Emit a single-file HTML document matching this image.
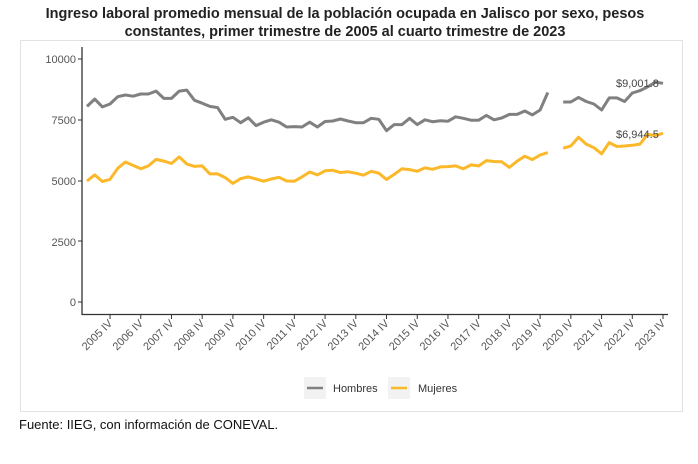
<!DOCTYPE html>
<html><head><meta charset="utf-8"><style>
body{margin:0;background:#fff;width:698px;height:459px;overflow:hidden;font-family:"Liberation Sans",sans-serif}
</style></head><body>
<svg width="698" height="459" xmlns="http://www.w3.org/2000/svg" font-family="Liberation Sans, sans-serif">
<text x="345" y="18" text-anchor="middle" font-size="14.5" font-weight="bold" fill="#222">Ingreso laboral promedio mensual de la población ocupada en Jalisco por sexo, pesos</text>
<text x="345" y="36" text-anchor="middle" font-size="14.5" font-weight="bold" fill="#222">constantes, primer trimestre de 2005 al cuarto trimestre de 2023</text>
<rect x="20.5" y="40.5" width="662" height="371" fill="#fff" stroke="#e2e2e2"/>
<g font-size="11" fill="#555" text-anchor="end">
<text x="76" y="63">10000</text><text x="76" y="124">7500</text><text x="76" y="185">5000</text><text x="76" y="246">2500</text><text x="76" y="306">0</text>
</g>
<g stroke="#333" stroke-width="1">
<line x1="78" y1="59" x2="82" y2="59"/><line x1="78" y1="120" x2="82" y2="120"/><line x1="78" y1="181" x2="82" y2="181"/><line x1="78" y1="241" x2="82" y2="241"/><line x1="78" y1="302" x2="82" y2="302"/>
</g>
<line x1="82" y1="47" x2="82" y2="315" stroke="#333" stroke-width="1.3"/>
<line x1="82" y1="314.5" x2="668" y2="314.5" stroke="#333" stroke-width="1.3"/>
<g id="xt"></g>
<polyline id="m1" fill="none" stroke="#808080" stroke-width="3" stroke-linejoin="round"/>
<polyline id="m2" fill="none" stroke="#808080" stroke-width="3" stroke-linejoin="round"/>
<polyline id="w1" fill="none" stroke="#FBB829" stroke-width="3" stroke-linejoin="round"/>
<polyline id="w2" fill="none" stroke="#FBB829" stroke-width="3" stroke-linejoin="round"/>
<text x="616" y="87" font-size="11" fill="#444">$9,001.8</text>
<text x="616" y="138" font-size="11" fill="#444">$6,944.5</text>
<rect x="304" y="377" width="22" height="22" fill="#f2f2f2"/>
<line x1="307" y1="388" x2="323" y2="388" stroke="#808080" stroke-width="2.5"/>
<text x="333" y="392" font-size="11" fill="#333">Hombres</text>
<rect x="388" y="377" width="22" height="22" fill="#f2f2f2"/>
<line x1="391" y1="388" x2="407" y2="388" stroke="#FBB829" stroke-width="2.5"/>
<text x="418" y="392" font-size="11" fill="#333">Mujeres</text>
<text x="19" y="429" font-size="13" fill="#111">Fuente: IIEG, con información de CONEVAL.</text>
</svg>
<script>
var M=[8050,8350,8030,8150,8450,8520,8470,8560,8560,8680,8380,8380,8680,8720,8300,8180,8050,8000,7520,7600,7380,7580,7260,7400,7500,7400,7200,7220,7200,7400,7200,7430,7450,7530,7450,7380,7380,7560,7520,7050,7300,7300,7560,7300,7500,7420,7460,7440,7620,7560,7480,7480,7680,7500,7570,7720,7720,7860,7700,7900,8620,null,8230,8230,8420,8250,8150,7900,8400,8400,8250,8600,8700,8850,9050,9001];
var W=[4980,5230,4960,5050,5500,5760,5620,5480,5600,5870,5800,5700,5970,5680,5580,5600,5270,5270,5120,4880,5080,5150,5060,4970,5060,5130,4980,4970,5150,5350,5230,5400,5420,5330,5360,5300,5220,5380,5300,5040,5250,5480,5450,5380,5520,5460,5560,5570,5600,5480,5640,5600,5820,5780,5770,5540,5800,6000,5860,6050,6150,null,6330,6420,6780,6500,6350,6100,6560,6400,6420,6450,6500,6900,6850,6944];
function X(i){return 87+i*7.68}function Y(v){return 302-v*0.0243}
function pts(a,s,e){var r=[];for(var i=s;i<=e;i++)r.push(X(i).toFixed(1)+","+Y(a[i]).toFixed(1));return r.join(" ")}
document.getElementById("m1").setAttribute("points",pts(M,0,60));
document.getElementById("m2").setAttribute("points",pts(M,62,75));
document.getElementById("w1").setAttribute("points",pts(W,0,60));
document.getElementById("w2").setAttribute("points",pts(W,62,75));
var g=document.getElementById("xt"),h="";
for(var y=2005;y<=2023;y++){var x=X((y-2005)*4+3);
h+='<line x1="'+x+'" y1="315" x2="'+x+'" y2="319" stroke="#333"/>';
h+='<text transform="translate('+(x+3)+',324) rotate(-45)" text-anchor="end" font-size="11" fill="#555">'+y+' IV</text>';}
g.innerHTML=h;
</script>
</body></html>
